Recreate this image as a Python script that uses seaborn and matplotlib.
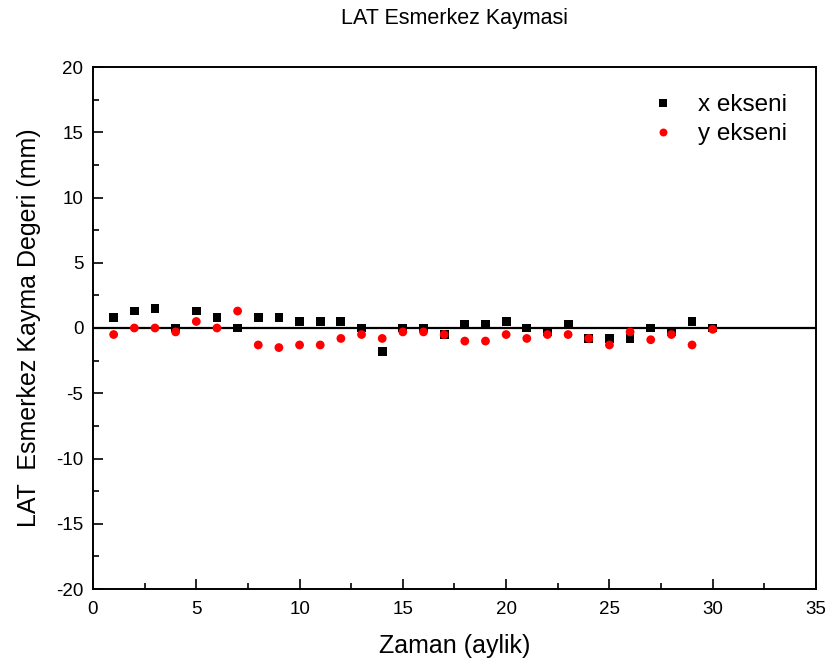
import numpy as np
import pandas as pd
import matplotlib
matplotlib.use("Agg")
import matplotlib.pyplot as plt
import seaborn as sns
from matplotlib.ticker import MultipleLocator

months = list(range(1, 31))
x_ekseni = [0.8, 1.3, 1.5, 0.0, 1.3, 0.8, 0.0, 0.8, 0.8, 0.5,
            0.5, 0.5, 0.0, -1.8, 0.0, 0.0, -0.5, 0.3, 0.3, 0.5,
            0.0, -0.3, 0.3, -0.8, -0.8, -0.8, 0.0, -0.3, 0.5, 0.0]
y_ekseni = [-0.5, 0.0, 0.0, -0.3, 0.5, 0.0, 1.3, -1.3, -1.5, -1.3,
            -1.3, -0.8, -0.5, -0.8, -0.3, -0.3, -0.5, -1.0, -1.0, -0.5,
            -0.8, -0.5, -0.5, -0.8, -1.3, -0.3, -0.9, -0.5, -1.3, -0.1]
series_names = ["x ekseni", "y ekseni"]

df = pd.DataFrame({
    "Zaman": months * 2,
    "Deger": x_ekseni + y_ekseni,
    "Seri": [series_names[0]] * len(months) + [series_names[1]] * len(months),
})

sns.set_style("white")
plt.rcParams["font.family"] = ["Liberation Sans", "DejaVu Sans"]
plt.rcParams["axes.unicode_minus"] = False
plt.rcParams["text.color"] = "black"
plt.rcParams["axes.labelcolor"] = "black"
plt.rcParams["xtick.color"] = "black"
plt.rcParams["ytick.color"] = "black"

fig = plt.figure(figsize=(8.29, 6.66), dpi=100)
ax = fig.add_axes([93 / 829, 1 - 589 / 666, (816 - 93) / 829, (589 - 67) / 666])

ax.axhline(0, color="black", lw=1.6, zorder=1)

sns.scatterplot(data=df, x="Zaman", y="Deger", hue="Seri", style="Seri",
                palette={"x ekseni": "black", "y ekseni": "red"},
                markers={"x ekseni": "s", "y ekseni": "o"},
                s=40, edgecolor="none", linewidth=0, ax=ax, zorder=3)

ax.set_xlim(0, 35)
ax.set_ylim(-20, 20)
ax.xaxis.set_major_locator(MultipleLocator(5))
ax.xaxis.set_minor_locator(MultipleLocator(2.5))
ax.yaxis.set_major_locator(MultipleLocator(5))
ax.yaxis.set_minor_locator(MultipleLocator(2.5))
ax.tick_params(which="both", direction="in", top=False, right=False,
               bottom=True, left=True, color="black", width=1.2)
ax.tick_params(which="major", length=7, labelsize=13.5, pad=7)
ax.tick_params(axis="x", which="major", pad=9)
ax.tick_params(which="minor", length=4)
for sp in ax.spines.values():
    sp.set_visible(True)
    sp.set_color("black")
    sp.set_linewidth(1.4)

ax.set_xlabel("Zaman (aylik)", fontsize=18, labelpad=11)
ax.set_ylabel("LAT  Esmerkez Kayma Degeri (mm)", fontsize=18, labelpad=11)
ax.set_title("LAT Esmerkez Kaymasi", fontsize=15.5, pad=31)

handles, labels = ax.get_legend_handles_labels()
ax.legend(handles, labels, loc="upper right", frameon=False, fontsize=17.5,
          bbox_to_anchor=(0.99, 0.99), handletextpad=0.45, labelspacing=0.3,
          markerscale=0.9)

fig.savefig("out.png", dpi=100)
